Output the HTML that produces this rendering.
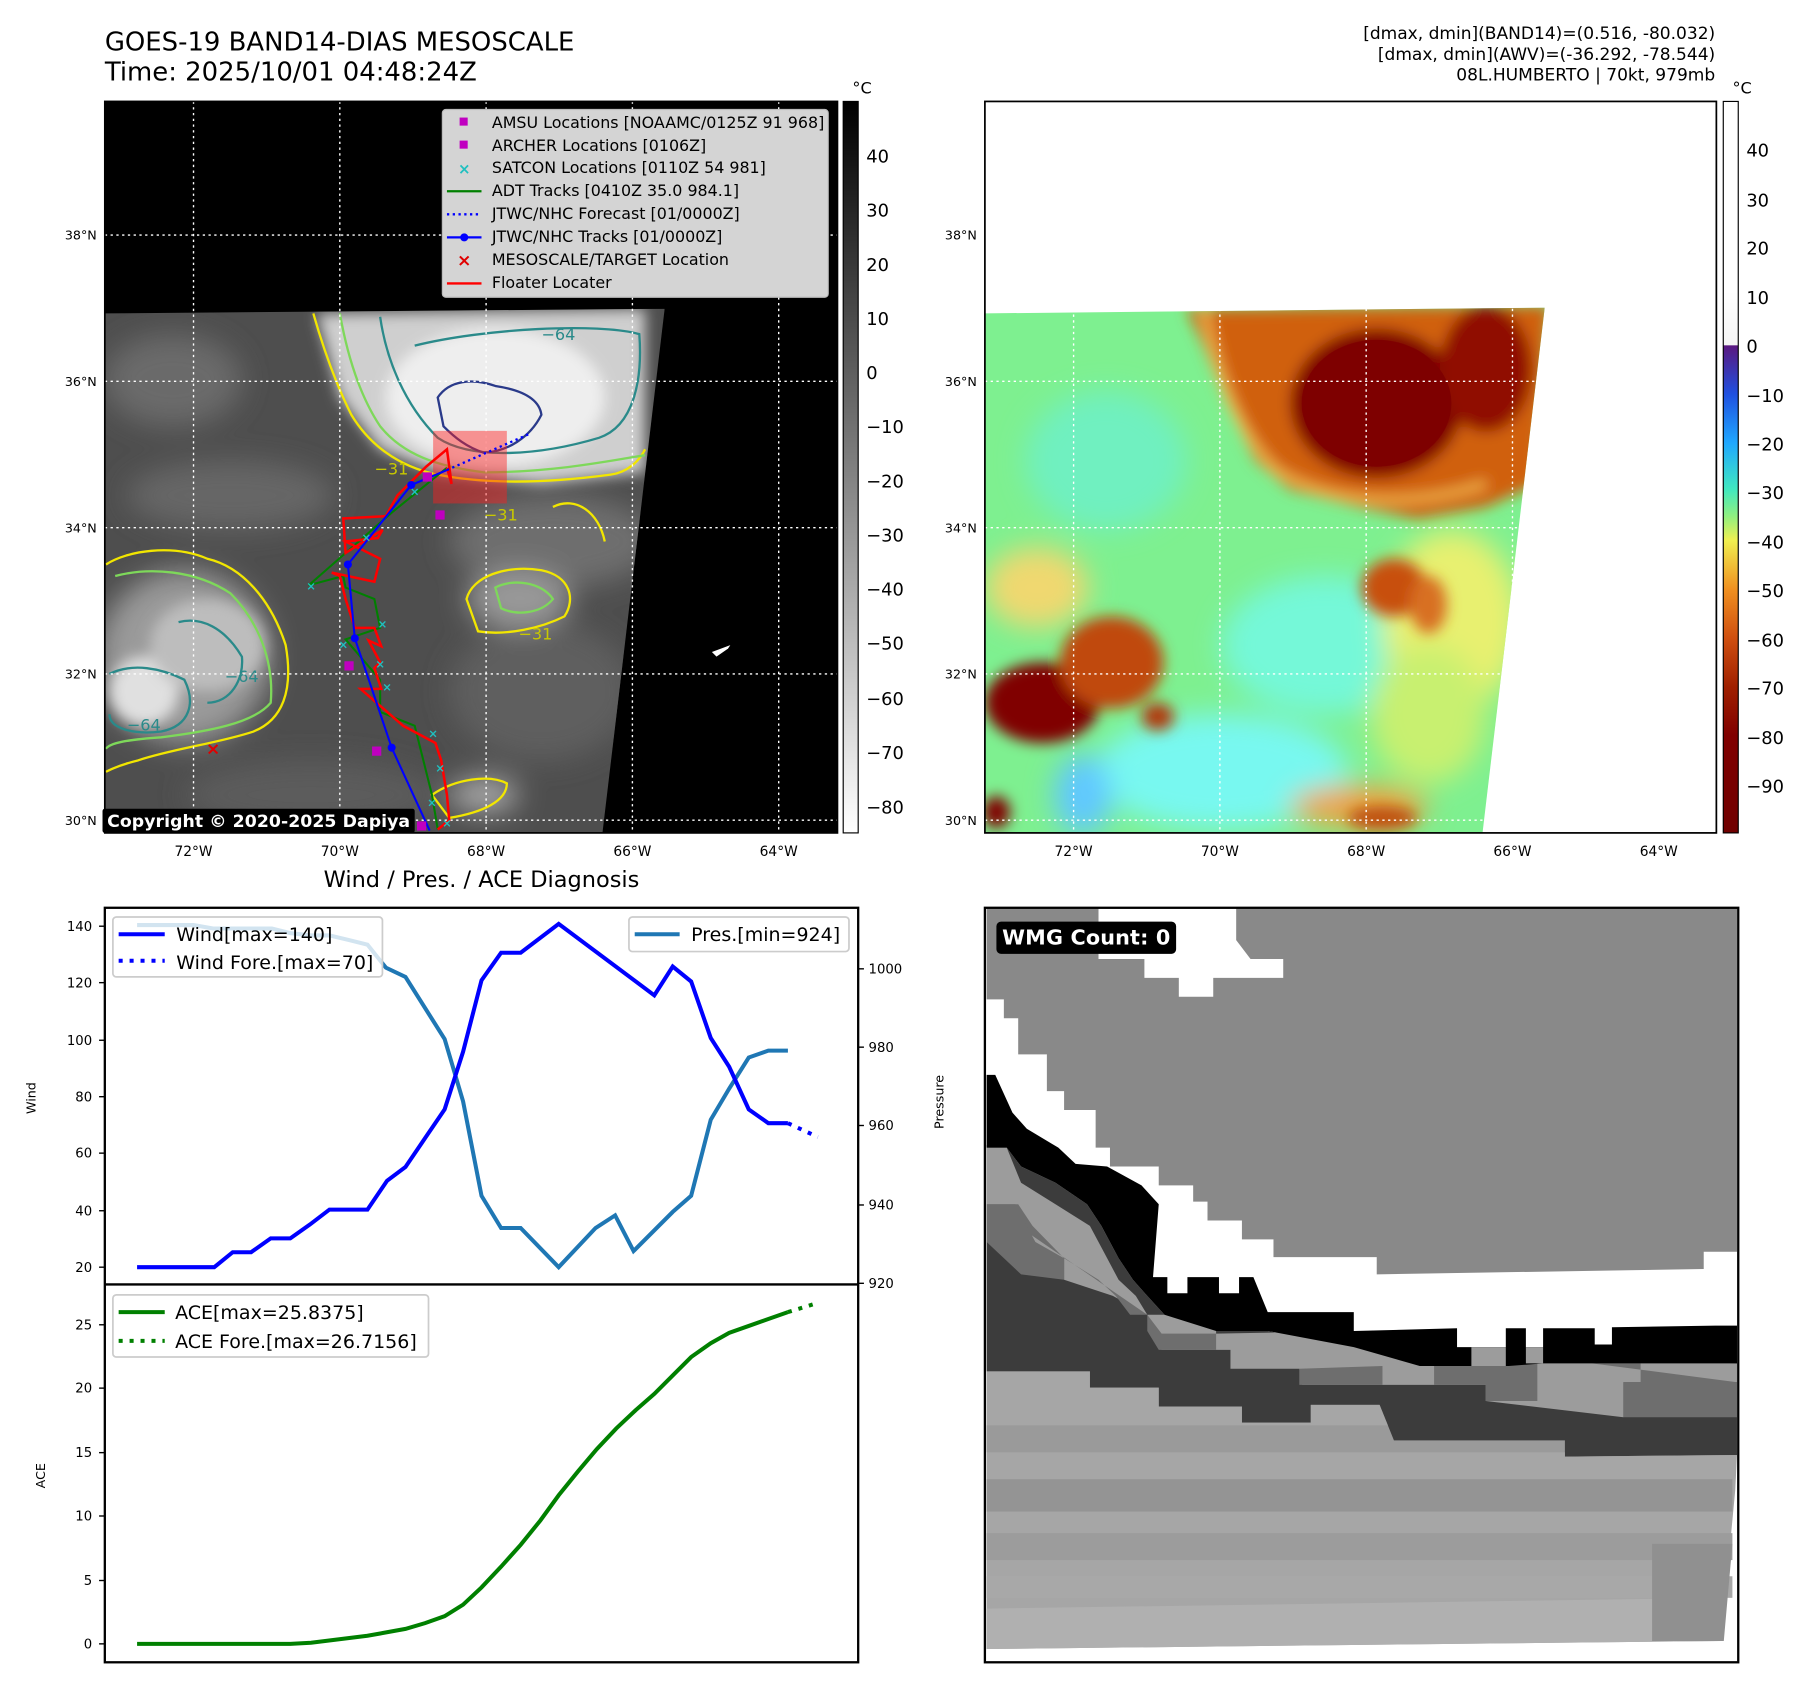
<!DOCTYPE html>
<html><head><meta charset="utf-8"><style>
html,body{margin:0;padding:0;background:#fff}
svg{display:block}
text{font-family:"DejaVu Sans","Liberation Sans",sans-serif}
</style></head><body>
<svg width="1797" height="1690" viewBox="0 0 1560 1467" xmlns="http://www.w3.org/2000/svg">
<defs>
<filter id="b6" x="-50%" y="-50%" width="200%" height="200%"><feGaussianBlur stdDeviation="6"/></filter>
<filter id="b12" x="-50%" y="-50%" width="200%" height="200%"><feGaussianBlur stdDeviation="12"/></filter>
<clipPath id="c1"><polygon points="91,272 577,268 523,723 91,723"/></clipPath>
<clipPath id="c2"><polygon points="855,272 1341,267 1287,723 855,723"/></clipPath>
<linearGradient id="g1" x1="0" y1="0" x2="0" y2="1"><stop offset="0" stop-color="#000"/><stop offset="1" stop-color="#fff"/></linearGradient>
<linearGradient id="g2" x1="0" y1="0" x2="0" y2="1">
<stop offset="0" stop-color="#ffffff"/><stop offset="0.26" stop-color="#ffffff"/><stop offset="0.333" stop-color="#f4f4f4"/>
<stop offset="0.334" stop-color="#5a1880"/><stop offset="0.4" stop-color="#2050e0"/><stop offset="0.467" stop-color="#20a8ff"/>
<stop offset="0.53" stop-color="#40e8c0"/><stop offset="0.567" stop-color="#90f080"/><stop offset="0.6" stop-color="#f0f050"/>
<stop offset="0.667" stop-color="#f09020"/><stop offset="0.733" stop-color="#d05010"/><stop offset="0.8" stop-color="#a02000"/>
<stop offset="0.867" stop-color="#800000"/><stop offset="1" stop-color="#700000"/></linearGradient>
</defs>

<text x="91" y="44" font-size="22.5">GOES-19 BAND14-DIAS MESOSCALE</text>
<text x="91" y="70" font-size="22.5">Time: 2025/10/01 04:48:24Z</text>
<text x="1489" y="34" font-size="14.8" text-anchor="end">[dmax, dmin](BAND14)=(0.516, -80.032)</text>
<text x="1489" y="52" font-size="14.8" text-anchor="end">[dmax, dmin](AWV)=(-36.292, -78.544)</text>
<text x="1489" y="70" font-size="14.8" text-anchor="end">08L.HUMBERTO | 70kt, 979mb</text>

<!-- LEFT MAP -->
<rect x="91" y="88" width="636" height="635" fill="#000"/>
<g clip-path="url(#c1)">
<rect x="91" y="260" width="500" height="470" fill="#4e4e4e"/>
<g filter="url(#b12)">
<ellipse cx="150" cy="330" rx="60" ry="40" fill="#6a6a6a"/>
<ellipse cx="200" cy="430" rx="90" ry="30" fill="#666"/>
<ellipse cx="480" cy="470" rx="90" ry="40" fill="#6e6e6e"/>
<ellipse cx="470" cy="600" rx="80" ry="60" fill="#5e5e5e"/>
<ellipse cx="160" cy="570" rx="75" ry="75" fill="#9a9a9a"/>
<ellipse cx="270" cy="690" rx="110" ry="30" fill="#5c5c5c"/>
<ellipse cx="450" cy="520" rx="45" ry="25" fill="#999"/>
<ellipse cx="420" cy="690" rx="30" ry="15" fill="#aaa"/>
</g>
<g filter="url(#b6)">
<path d="M275,272 L560,268 L560,410 L470,420 L380,410 L330,390 L295,345 Z" fill="#cfcfcf"/>
<ellipse cx="430" cy="345" rx="95" ry="60" fill="#eeeeee"/>
<ellipse cx="125" cy="600" rx="30" ry="30" fill="#e0e0e0"/>
<ellipse cx="180" cy="560" rx="50" ry="40" fill="#bdbdbd"/>
</g>
<g fill="none" stroke-width="2">
<path d="M272,272 C280,300 290,330 305,360 C320,385 345,405 380,412 C420,420 470,420 530,412 C545,410 555,400 560,390" stroke="#f2e600"/>
<path d="M295,272 C300,300 310,340 330,370 C350,395 380,405 420,410 C480,410 530,400 560,395" stroke="#7ed85a"/>
<path d="M330,275 C335,310 350,350 380,380 C410,400 470,395 520,380 C550,370 558,330 555,290 C520,280 420,285 360,300" stroke="#2a8a8a"/>
<path d="M380,345 C390,330 410,328 430,335 C450,338 468,345 470,360 C460,380 440,392 420,393 C405,388 395,380 385,370 Z" stroke="#2a3a8a"/>
<path d="M92,490 C110,478 150,472 180,485 C210,492 235,520 248,560 C255,600 245,625 220,635 C190,645 150,650 120,660 C100,665 92,670 92,670" stroke="#f2e600"/>
<path d="M100,500 C130,492 170,495 200,515 C225,540 238,575 235,610 C220,628 180,635 140,640 C110,642 95,645 92,650" stroke="#7ed85a"/>
<path d="M95,585 C115,575 140,580 160,590 C170,610 165,630 140,635 C115,638 95,632 95,620" stroke="#2a8a8a"/>
<path d="M155,540 C175,535 195,545 210,570 C212,590 200,610 180,610" stroke="#2a8a8a"/>
<path d="M405,520 C410,500 440,490 470,495 C495,500 500,520 490,535 C470,545 440,552 415,548 Z" stroke="#f2e600"/>
<path d="M430,510 C445,502 470,505 480,520 C470,532 450,535 435,528 Z" stroke="#7ed85a"/>
<path d="M375,690 C395,676 425,672 440,680 C440,695 420,705 390,710 Z" stroke="#f2e600"/>
<path d="M480,440 C500,430 520,445 525,470" stroke="#f2e600"/>
</g>
<g font-size="14" fill="#c8c800"><text x="325" y="412">−31</text><text x="420" y="452">−31</text><text x="450" y="555">−31</text></g>
<g font-size="14" fill="#2a8a8a"><text x="110" y="634">−64</text><text x="470" y="295">−64</text><text x="195" y="592">−64</text></g>
</g>
<polygon points="618,566 634,560 632,563 622,570" fill="#fff"/>
<g stroke="#fff" stroke-width="1.2" stroke-dasharray="2,3">
<line x1="168" y1="88" x2="168" y2="723"/><line x1="295" y1="88" x2="295" y2="723"/><line x1="422" y1="88" x2="422" y2="723"/><line x1="549" y1="88" x2="549" y2="723"/><line x1="676" y1="88" x2="676" y2="723"/>
<line x1="91" y1="204" x2="727" y2="204"/><line x1="91" y1="331" x2="727" y2="331"/><line x1="91" y1="458" x2="727" y2="458"/><line x1="91" y1="585" x2="727" y2="585"/><line x1="91" y1="712" x2="727" y2="712"/>
</g>
<rect x="376" y="374" width="64" height="63" fill="#ff2020" fill-opacity="0.45"/>
<polyline points="380,720 375,690 360,630 330,618 330,590 300,555 330,545 325,520 300,510 298,500 268,508 300,480 340,445 388,406" fill="none" stroke="#008000" stroke-width="1.8"/>
<polyline points="380,720 390,712 388,690 383,660 378,645 350,630 313,598 331,598 325,580 330,575 320,556 331,561 325,545 308,545 300,520 295,500 288,497 325,505 330,485 300,470 328,467 332,460 300,480 298,450 335,448 345,430 370,405 388,390 392,420 388,406" fill="none" stroke="#f00" stroke-width="2.2"/>
<polyline points="373,721 340,649 308,554 302,490 357,421 388,408" fill="none" stroke="#00f" stroke-width="1.8"/>
<polyline points="388,408 461,376" fill="none" stroke="#00f" stroke-width="2" stroke-dasharray="2,3"/>
<g fill="#00f"><circle cx="340" cy="649" r="3.5"/><circle cx="308" cy="554" r="3.5"/><circle cx="302" cy="490" r="3.5"/><circle cx="357" cy="421" r="3.5"/></g>
<g fill="#20c0c0" font-size="10" font-weight="bold" text-anchor="middle">
<text x="270" y="512">×</text><text x="318" y="470">×</text><text x="332" y="545">×</text><text x="298" y="563">×</text><text x="336" y="600">×</text><text x="376" y="640">×</text><text x="382" y="670">×</text><text x="375" y="700">×</text><text x="388" y="718">×</text><text x="330" y="580">×</text><text x="360" y="430">×</text>
</g>
<g fill="#c000c0"><rect x="367" y="410" width="8" height="8"/><rect x="378" y="443" width="8" height="8"/><rect x="299" y="574" width="8" height="8"/><rect x="323" y="648" width="8" height="8"/><rect x="362" y="713" width="8" height="8"/></g>
<text x="185" y="655" font-size="15" fill="#e00000" text-anchor="middle" font-weight="bold">×</text>
<rect x="384" y="95" width="335" height="163" rx="3" fill="#d4d4d4" stroke="#bbb"/>
<g font-size="13.8" fill="#000">
<text x="427" y="111">AMSU Locations [NOAAMC/0125Z 91 968]</text>
<text x="427" y="131">ARCHER Locations [0106Z]</text>
<text x="427" y="150">SATCON Locations [0110Z 54 981]</text>
<text x="427" y="170">ADT Tracks [0410Z 35.0 984.1]</text>
<text x="427" y="190">JTWC/NHC Forecast [01/0000Z]</text>
<text x="427" y="210">JTWC/NHC Tracks [01/0000Z]</text>
<text x="427" y="230">MESOSCALE/TARGET Location</text>
<text x="427" y="250">Floater Locater</text>
</g>
<rect x="399" y="102" width="7" height="7" fill="#c000c0"/><rect x="399" y="122" width="7" height="7" fill="#c000c0"/>
<text x="403" y="151" font-size="13" font-weight="bold" fill="#20c0c0" text-anchor="middle">×</text>
<line x1="388" y1="166" x2="418" y2="166" stroke="#008000" stroke-width="2"/>
<line x1="388" y1="186" x2="418" y2="186" stroke="#00f" stroke-width="2" stroke-dasharray="2,3"/>
<line x1="388" y1="206" x2="418" y2="206" stroke="#00f" stroke-width="2"/><circle cx="403" cy="206" r="3.5" fill="#00f"/>
<text x="403" y="231" font-size="15" fill="#e00000" text-anchor="middle" font-weight="bold">×</text>
<line x1="388" y1="246" x2="418" y2="246" stroke="#f00" stroke-width="2"/>
<rect x="89" y="702" width="271" height="21" rx="2" fill="#000"/>
<text x="93" y="718" font-size="15" font-weight="bold" fill="#fff" textLength="263">Copyright © 2020-2025 Dapiya</text>
<rect x="91" y="88" width="636" height="635" fill="none" stroke="#000" stroke-width="1.5"/>
<g font-size="11" text-anchor="end">
<text x="84" y="208">38°N</text><text x="84" y="335">36°N</text><text x="84" y="462">34°N</text><text x="84" y="589">32°N</text><text x="84" y="716">30°N</text>
<text x="848" y="208">38°N</text><text x="848" y="335">36°N</text><text x="848" y="462">34°N</text><text x="848" y="589">32°N</text><text x="848" y="716">30°N</text>
</g>
<g font-size="12" text-anchor="middle">
<text x="168" y="743">72°W</text><text x="295" y="743">70°W</text><text x="422" y="743">68°W</text><text x="549" y="743">66°W</text><text x="676" y="743">64°W</text>
<text x="932" y="743">72°W</text><text x="1059" y="743">70°W</text><text x="1186" y="743">68°W</text><text x="1313" y="743">66°W</text><text x="1440" y="743">64°W</text>
</g>
<rect x="732" y="88" width="13" height="635" fill="url(#g1)" stroke="#000" stroke-width="1"/>
<text x="740" y="81" font-size="14">°C</text>
<g font-size="15.5"><text x="752" y="141">40</text><text x="752" y="188">30</text><text x="752" y="235">20</text><text x="752" y="282">10</text><text x="752" y="329">0</text><text x="752" y="376">−10</text><text x="752" y="423">−20</text><text x="752" y="470">−30</text><text x="752" y="517">−40</text><text x="752" y="564">−50</text><text x="752" y="612">−60</text><text x="752" y="659">−70</text><text x="752" y="706">−80</text></g>

<!-- RIGHT MAP -->
<rect x="855" y="88" width="635" height="635" fill="#fff"/>
<g clip-path="url(#c2)">
<rect x="850" y="260" width="500" height="470" fill="#7ef090"/>
<g filter="url(#b12)">
<ellipse cx="960" cy="400" rx="70" ry="60" fill="#6ff0c0"/>
<ellipse cx="1150" cy="560" rx="90" ry="60" fill="#75f8d8"/>
<ellipse cx="1060" cy="670" rx="110" ry="50" fill="#78f8f0"/>
<ellipse cx="940" cy="690" rx="25" ry="35" fill="#60c8ff"/>
<ellipse cx="1260" cy="540" rx="60" ry="80" fill="#e8f070"/>
<ellipse cx="1240" cy="620" rx="50" ry="60" fill="#c8f070"/>
<ellipse cx="900" cy="510" rx="45" ry="35" fill="#f0d870"/>
<ellipse cx="1180" cy="700" rx="60" ry="18" fill="#f0a040"/>
</g>
<g filter="url(#b6)">
<path d="M1030,268 L1345,265 L1335,420 L1290,440 L1230,450 L1180,440 L1120,425 L1090,400 L1065,350 L1045,300 Z" fill="#d06010"/>
<path d="M1045,268 C1055,320 1075,380 1110,410 C1160,440 1230,440 1290,420" fill="none" stroke="#f8c050" stroke-width="6"/>
<ellipse cx="1195" cy="350" rx="75" ry="65" fill="#800000"/>
<ellipse cx="1290" cy="320" rx="40" ry="55" fill="#901000"/>
<ellipse cx="905" cy="610" rx="50" ry="35" fill="#800000"/>
<ellipse cx="965" cy="575" rx="45" ry="40" fill="#c04a08"/>
<ellipse cx="1005" cy="622" rx="14" ry="12" fill="#b03a08"/>
<ellipse cx="1210" cy="510" rx="28" ry="25" fill="#c85010"/>
<ellipse cx="1240" cy="525" rx="16" ry="25" fill="#d87020"/>
<ellipse cx="865" cy="705" rx="12" ry="14" fill="#800000"/>
<ellipse cx="1200" cy="710" rx="30" ry="10" fill="#c05010"/>
</g>
<ellipse cx="1195" cy="350" rx="65" ry="55" fill="#7e0000"/>
</g>
<g stroke="#fff" stroke-width="1.2" stroke-dasharray="2,3">
<line x1="932" y1="88" x2="932" y2="723"/><line x1="1059" y1="88" x2="1059" y2="723"/><line x1="1186" y1="88" x2="1186" y2="723"/><line x1="1313" y1="88" x2="1313" y2="723"/><line x1="1440" y1="88" x2="1440" y2="723"/>
<line x1="855" y1="204" x2="1490" y2="204"/><line x1="855" y1="331" x2="1490" y2="331"/><line x1="855" y1="458" x2="1490" y2="458"/><line x1="855" y1="585" x2="1490" y2="585"/><line x1="855" y1="712" x2="1490" y2="712"/>
</g>
<rect x="855" y="88" width="635" height="635" fill="none" stroke="#000" stroke-width="1.5"/>
<rect x="1496" y="88" width="13" height="635" fill="url(#g2)" stroke="#000" stroke-width="1"/>
<text x="1504" y="81" font-size="14">°C</text>
<g font-size="15.5"><text x="1516" y="136">40</text><text x="1516" y="179">30</text><text x="1516" y="221">20</text><text x="1516" y="264">10</text><text x="1516" y="306">0</text><text x="1516" y="349">−10</text><text x="1516" y="391">−20</text><text x="1516" y="433">−30</text><text x="1516" y="476">−40</text><text x="1516" y="518">−50</text><text x="1516" y="561">−60</text><text x="1516" y="603">−70</text><text x="1516" y="646">−80</text><text x="1516" y="688">−90</text></g>

<!-- BOTTOM LEFT CHART -->
<text x="418" y="770" font-size="19.5" text-anchor="middle">Wind / Pres. / ACE Diagnosis</text>
<rect x="91" y="788" width="654" height="655" fill="#fff" stroke="#000" stroke-width="2"/>
<line x1="91" y1="1115" x2="745" y2="1115" stroke="#000" stroke-width="2"/>
<g stroke="#000" stroke-width="1.2">
<line x1="86" y1="804" x2="91" y2="804"/><line x1="86" y1="853" x2="91" y2="853"/><line x1="86" y1="903" x2="91" y2="903"/><line x1="86" y1="952" x2="91" y2="952"/><line x1="86" y1="1001" x2="91" y2="1001"/><line x1="86" y1="1051" x2="91" y2="1051"/><line x1="86" y1="1100" x2="91" y2="1100"/>
<line x1="745" y1="841" x2="750" y2="841"/><line x1="745" y1="909" x2="750" y2="909"/><line x1="745" y1="977" x2="750" y2="977"/><line x1="745" y1="1046" x2="750" y2="1046"/><line x1="745" y1="1114" x2="750" y2="1114"/>
<line x1="86" y1="1427" x2="91" y2="1427"/><line x1="86" y1="1372" x2="91" y2="1372"/><line x1="86" y1="1316" x2="91" y2="1316"/><line x1="86" y1="1261" x2="91" y2="1261"/><line x1="86" y1="1205" x2="91" y2="1205"/><line x1="86" y1="1150" x2="91" y2="1150"/>
</g>
<g font-size="11.5" text-anchor="end">
<text x="80" y="808">140</text><text x="80" y="857">120</text><text x="80" y="907">100</text><text x="80" y="956">80</text><text x="80" y="1005">60</text><text x="80" y="1055">40</text><text x="80" y="1104">20</text>
<text x="80" y="1431">0</text><text x="80" y="1376">5</text><text x="80" y="1320">10</text><text x="80" y="1265">15</text><text x="80" y="1209">20</text><text x="80" y="1154">25</text>
</g>
<g font-size="11.5"><text x="754" y="845">1000</text><text x="754" y="913">980</text><text x="754" y="981">960</text><text x="754" y="1050">940</text><text x="754" y="1118">920</text></g>
<text font-size="11" transform="translate(31,967) rotate(-90)">Wind</text>
<text font-size="11" transform="translate(39,1292) rotate(-90)">ACE</text>
<text font-size="11" transform="translate(819,980) rotate(-90)">Pressure</text>
<polyline points="119,803 168,803 185,806 236,806 252,810 270,812 286,812 303,816 319,820 335,840 352,848 386,902 402,956 418,1038 435,1066 452,1066 485,1100 517,1066 534,1055 550,1086 584,1052 600,1038 617,972 633,945 650,918 667,912 684,912" fill="none" stroke="#1f77b4" stroke-width="3.5"/>
<polyline points="119,1100 186,1100 202,1087 218,1087 235,1075 252,1075 269,1063 286,1050 319,1050 336,1025 352,1013 369,988 386,963 402,913 418,851 435,827 452,827 485,802 568,864 584,839 600,852 617,901 633,926 650,963 667,975 684,975" fill="none" stroke="#00f" stroke-width="3.5"/>
<polyline points="684,975 710,987" fill="none" stroke="#00f" stroke-width="3.5" stroke-dasharray="3.5,6"/>
<polyline points="119,1427 252,1427 270,1426 319,1420 352,1414 369,1409 386,1403 402,1393 418,1378 435,1360 452,1341 469,1320 485,1298 502,1277 518,1258 535,1240 552,1224 568,1210 585,1193 600,1178 617,1166 633,1157 650,1151 667,1145 684,1139" fill="none" stroke="#008000" stroke-width="3.5"/>
<polyline points="684,1139 710,1131" fill="none" stroke="#008000" stroke-width="3.5" stroke-dasharray="3.5,6"/>
<rect x="98" y="796" width="234" height="52" rx="3" fill="#fff" fill-opacity="0.8" stroke="#ccc" stroke-width="1.5"/>
<line x1="103" y1="811" x2="143" y2="811" stroke="#00f" stroke-width="3.5"/>
<line x1="103" y1="834" x2="143" y2="834" stroke="#00f" stroke-width="3.5" stroke-dasharray="3.5,6"/>
<g font-size="16.5"><text x="153" y="817">Wind[max=140]</text><text x="153" y="841">Wind Fore.[max=70]</text></g>
<rect x="546" y="796" width="191" height="30" rx="3" fill="#fff" fill-opacity="0.8" stroke="#ccc" stroke-width="1.5"/>
<line x1="551" y1="811" x2="590" y2="811" stroke="#1f77b4" stroke-width="3.5"/>
<text x="600" y="817" font-size="16.5">Pres.[min=924]</text>
<rect x="98" y="1124" width="274" height="54" rx="3" fill="#fff" fill-opacity="0.8" stroke="#ccc" stroke-width="1.5"/>
<line x1="103" y1="1139" x2="143" y2="1139" stroke="#008000" stroke-width="3.5"/>
<line x1="103" y1="1164" x2="143" y2="1164" stroke="#008000" stroke-width="3.5" stroke-dasharray="3.5,6"/>
<g font-size="16.5"><text x="152" y="1145">ACE[max=25.8375]</text><text x="152" y="1170">ACE Fore.[max=26.7156]</text></g>

<!-- BOTTOM RIGHT -->
<rect x="855" y="788" width="654" height="655" fill="#fff"/>
<g transform="translate(786.8,741.2) scale(0.498,0.468)">
<polygon points="140,960 320,960 320,990 440,990 440,1025 585,1025 585,1055 705,1055 705,1022 825,1022 850,1088 1148,1088 1148,1118 1448,1115 1445,1180 1420,1460 140,1475" fill="#a6a6a6"/>
<rect x="140" y="1060" width="1300" height="50" fill="#9a9a9a"/>
<rect x="140" y="1160" width="1300" height="60" fill="#949494"/>
<rect x="140" y="1260" width="1300" height="50" fill="#9c9c9c"/>
<rect x="140" y="1340" width="1300" height="40" fill="#a8a8a8"/>
<polygon points="140,1400 1425,1380 1420,1460 140,1475" fill="#b0b0b0"/>
<polygon points="1300,1280 1440,1280 1425,1460 1300,1460" fill="#909090"/>
<polygon points="140,540 175,545 200,580 260,610 315,650 340,690 370,750 395,790 420,820 450,855 540,885 630,885 780,915 895,950 1448,940 1448,1115 1148,1118 1148,1088 850,1088 825,1022 705,1022 705,1055 585,1055 585,1025 440,1025 440,990 320,990 320,960 140,960" fill="#3c3c3c"/>
<polygon points="140,545 175,545 200,610 260,650 320,690 345,740 370,790 400,820 420,855 540,855 540,890 780,885 895,915 1448,945 1448,980 1250,980 1250,1045 1010,1015 1010,985 830,985 690,985 685,955 565,955 565,920 445,920 420,855 360,820 275,790 275,750 215,750 190,720 140,720" fill="#9c9c9c"/>
<polygon points="140,650 195,650 220,690 275,750 335,790 365,820 390,855 420,855 420,885 440,920 540,920 540,890 445,890 420,855" fill="#6e6e6e"/>
<polygon points="140,650 190,650 225,720 275,750 275,790 200,780 140,720" fill="#6e6e6e"/>
<polygon points="685,955 830,950 830,985 685,985" fill="#6e6e6e"/>
<polygon points="920,950 1100,945 1100,1015 1010,1015 1010,985 920,985" fill="#6e6e6e"/>
<polygon points="1195,945 1280,945 1280,980 1250,980 1250,1045 1448,1045 1448,980" fill="#6e6e6e"/>
<polygon points="140,410 155,410 185,480 210,510 265,545 295,575 350,580 410,615 440,650 430,785 455,785 455,815 490,815 490,785 545,785 545,815 580,815 580,785 605,785 630,850 690,850 780,850 780,885 960,880 960,915 1045,915 1045,880 1080,880 1080,915 1110,915 1110,880 1200,880 1200,910 1230,910 1230,878 1410,875 1410,875 1448,875 1448,945 1110,945 1050,950 895,950 780,915 630,885 540,885 450,855 420,820 395,790 370,750 340,690 315,650 260,610 200,580 175,545 140,545" fill="#000"/>
<polygon points="985,915 1045,915 1045,950 985,950" fill="#9c9c9c"/>
<polygon points="1080,915 1110,915 1110,945 1080,945" fill="#9c9c9c"/>
<polygon points="140,100 335,100 335,195 415,195 415,230 475,230 475,265 535,265 535,230 657,230 657,195 600,195 575,160 575,100 1448,100 1448,738 1390,738 1390,770 820,780 820,748 640,748 640,715 585,715 585,680 525,680 525,645 500,645 500,615 440,615 440,580 355,580 355,545 330,545 330,475 275,475 275,440 245,440 245,372 195,372 195,305 170,305 170,270 140,270" fill="#898989"/>
</g>
<rect x="855" y="788" width="654" height="655" fill="none" stroke="#000" stroke-width="2"/>
<rect x="865" y="800" width="156" height="28" rx="4" fill="#000"/>
<text x="870" y="820" font-size="18" font-weight="bold" fill="#fff" textLength="146">WMG Count: 0</text>
</svg>
</body></html>
